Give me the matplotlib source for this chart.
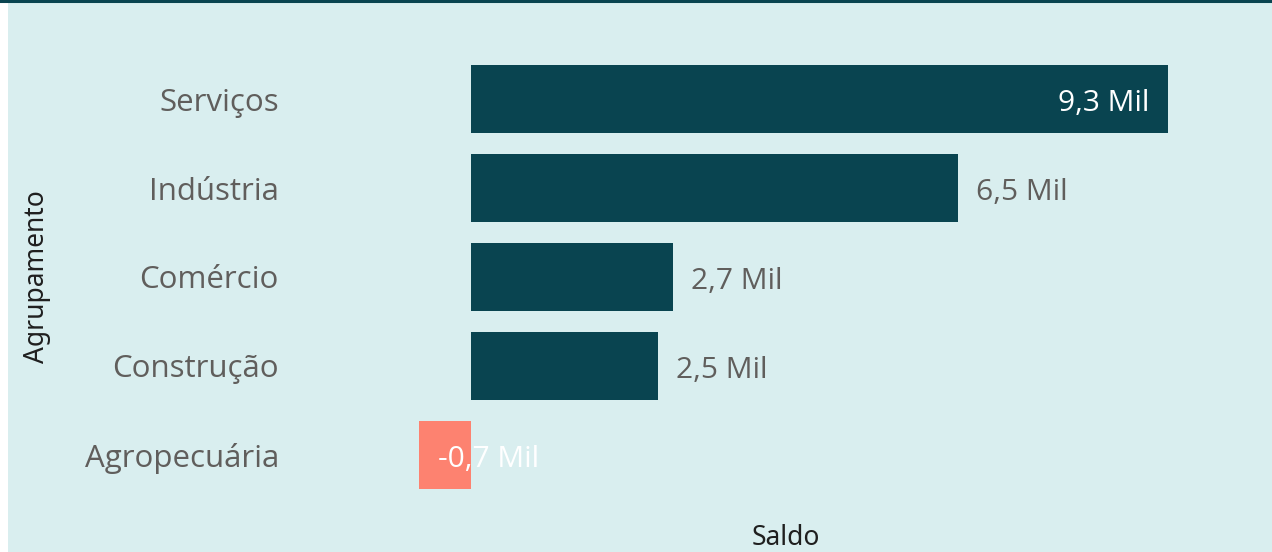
import matplotlib.pyplot as plt

categorias = ["Serviços", "Indústria", "Comércio", "Construção", "Agropecuária"]
saldo = [9.3, 6.5, 2.7, 2.5, -0.7]
rotulos = ["9,3 Mil", "6,5 Mil", "2,7 Mil", "2,5 Mil", "-0,7 Mil"]

W, H = 1272, 552
fundo = "#d9eeef"
escuro = "#094450"
salmao = "#fd8270"
cinza = "#605e5c"
fs = 21.5

fig = plt.figure(figsize=(W / 100, H / 100), dpi=100)
fig.patch.set_facecolor("white")

# painel de fundo + linha superior
painel = fig.add_axes([8 / W, 0, 1 - 8 / W, 1 - 2 / H])
painel.set_facecolor(fundo)
painel.set_xticks([])
painel.set_yticks([])
for s in painel.spines.values():
    s.set_visible(False)
fig.add_artist(plt.Line2D([0, 1], [1 - 1 / H, 1 - 1 / H], color=escuro, lw=2.2,
                          transform=fig.transFigure))

# eixo do grafico
ax_l, ax_r, ax_t, ax_b = 290, 1272, 20, 510
ax = fig.add_axes([ax_l / W, 1 - ax_b / H, (ax_r - ax_l) / W, (ax_b - ax_t) / H])
ax.patch.set_alpha(0)
ppu = 74.9
zero_px = 471
ax.set_xlim(-(zero_px - ax_l) / ppu, (ax_r - zero_px) / ppu)
pitch = 89
ax.set_ylim((ax_b - 455) / pitch + 4, -(99 - ax_t) / pitch)

y = list(range(len(categorias)))
cores = [escuro if v >= 0 else salmao for v in saldo]
ax.barh(y, saldo, height=68 / pitch, color=cores)

ax.set_yticks(y)
ax.set_yticklabels(categorias, fontsize=22.5, color=cinza, family="Open Sans")
ax.tick_params(axis="y", length=0, pad=8)
ax.set_xticks([])
for s in ax.spines.values():
    s.set_visible(False)

for i, (v, t) in enumerate(zip(saldo, rotulos)):
    if i == 0:
        ax.annotate(t, (v, i), xytext=(-13, -3), textcoords="offset points",
                    ha="right", va="center", fontsize=fs, color="white", family="Open Sans")
    elif v < 0:
        ax.annotate(t, (v, i), xytext=(14, -3), textcoords="offset points",
                    ha="left", va="center", fontsize=fs, color="white", family="Open Sans")
    else:
        ax.annotate(t, (v, i), xytext=(13, -3), textcoords="offset points",
                    ha="left", va="center", fontsize=fs, color=cinza, family="Open Sans")

fig.text(37 / W, 1 - 277 / H, "Agrupamento", rotation=90, ha="center", va="center",
         fontsize=19, color="#1f1f1f", family="Noto Sans", weight=500)
fig.text(786 / W, 1 - 538 / H, "Saldo", ha="center", va="center",
         fontsize=19, color="#1f1f1f", family="Noto Sans", weight=500)

fig.savefig("out.png", dpi=100, facecolor=fig.get_facecolor())
